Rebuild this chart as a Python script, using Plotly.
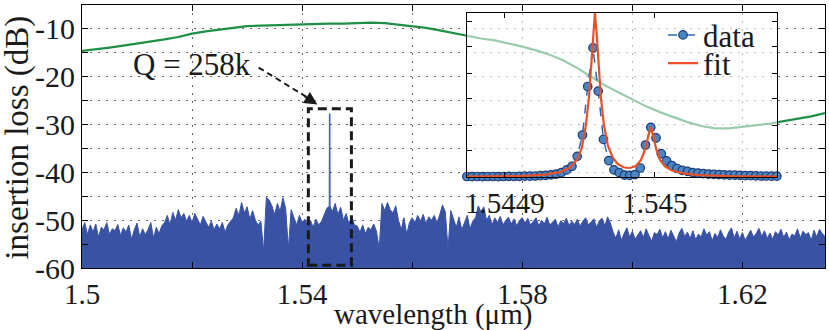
import plotly.graph_objects as go

# ---------------- data ----------------
# Main spectrum: noise floor (blue), sampled every 0.5 nm from 1.5 um
NOISE_START_UM = 1.5
NOISE_STEP_UM = 0.0005
noise_db = [
    -52.0, -50.5, -53.0, -51.0, -52.5, -50.8, -53.5, -51.5, -52.0, -50.5, -53.0, -51.8, -52.2, -50.9, -53.2, -51.6,
    -52.5, -51.0, -54.0, -52.0, -50.6, -53.5, -51.8, -53.0, -52.0, -50.5, -53.8, -51.5, -52.8, -51.2,
    -50.5, -49.0, -51.0, -48.4, -50.0, -47.8, -49.5, -48.6, -50.2,
    -49.0, -50.5, -48.6, -49.8, -51.0, -49.2, -50.4,
    -51.5, -50.2, -52.0, -50.8, -51.8, -50.5, -52.5, -51.0, -50.2,
    -49.5, -47.5, -49.0, -46.3, -48.5, -47.2, -49.8, -48.0, -50.0,
    -51.0, -50.2, -56.5, -45.2, -45.8,
    -47.0, -48.8, -46.5, -48.2, -45.3, -47.5, -56.0, -47.8,
    -49.5, -51.0, -49.0, -50.5, -49.8, -51.0,
    -50.0, -51.5, -49.8, -51.0, -50.3,
    -49.0, -47.5, -47.0, -48.2, -46.5, -48.8, -47.3,
    -50.0, -48.6, -50.8, -49.2, -51.0,
    -51.2, -52.5, -51.0, -52.8, -51.5, -52.0, -50.8, -52.3,
    -56.0, -46.5, -48.0, -46.3, -47.8, -48.5, -47.0,
    -50.0, -52.0, -49.5, -53.0, -50.5,
    -49.5, -50.5, -49.0, -50.2, -48.8, -50.8, -49.3, -50.0, -49.0, -50.5, -48.9,
    -46.8, -48.2, -56.0, -48.0,
    -50.0, -51.5, -49.3, -52.0, -50.5, -49.0, -51.8, -50.2, -49.5,
    -47.0, -48.3, -47.2,
    -50.0, -49.0, -51.0, -49.5, -50.5, -49.2, -51.0, -50.0, -49.4, -50.8, -49.7, -51.2, -50.0, -49.5, -50.6,
    -49.6, -51.0, -50.2, -49.5, -51.2, -50.0, -50.8, -49.4, -51.0, -50.3, -49.8, -51.4, -50.1, -50.7, -49.6, -51.1, -50.2, -50.9,
    -49.8, -51.3, -50.2, -49.5, -51.0, -50.4, -49.7, -51.5, -50.1, -49.6, -51.2, -49.3, -50.6,
    -52.5, -53.8, -52.0, -54.2, -52.8, -51.6, -53.5, -52.3, -54.0, -53.0,
    -52.2, -53.6, -51.8, -53.2, -54.4, -52.6, -53.0, -51.9, -53.7, -52.4,
    -53.9, -52.1, -53.3, -54.5, -52.7, -51.7, -53.4, -52.5, -53.8, -52.2,
    -54.1, -52.9, -53.5, -51.8, -53.1, -52.4, -54.3, -52.8, -53.6, -52.0,
    -53.3, -54.0, -52.5, -51.6, -53.7, -52.3, -53.9, -52.6, -54.2, -53.0,
    -52.1, -53.5, -52.8, -51.7, -53.4, -52.2, -53.8, -52.7, -54.0, -52.4,
    -53.1, -51.9, -53.6, -52.5, -54.1, -52.9, -53.3, -51.8, -53.7, -52.3,
    -53.0, -52.6, -54.2, -52.1, -53.5, -51.9, -52.8, -53.4,
]
noise_um = [round(NOISE_START_UM + NOISE_STEP_UM * i, 4) for i in range(len(noise_db))]

# The resonance itself, seen at finer sampling in the full spectrum
resonance_um = [1.54497, 1.545, 1.54503]
resonance_db = [-47.5, -27.7, -47.5]

# Grating-coupler envelope (green), every 2.5 nm
GREEN_START_UM = 1.5
GREEN_STEP_UM = 0.0025
green_db = [
    -14.6, -14.3, -13.9, -13.5, -13.1, -12.6, -12.2, -11.7, -11.0, -10.5,
    -10.1, -9.7, -9.4, -9.3, -9.2, -9.1, -9.0, -9.0, -8.9, -8.9,
    -8.8, -8.7, -8.8, -9.1, -9.4, -9.8, -10.3, -10.9, -11.5, -12.0,
    -12.4, -13.0, -13.7, -14.5, -15.4, -16.6, -18.2, -20.0, -21.8, -23.3,
    -24.7, -26.2, -27.4, -28.4, -29.5, -30.3, -30.8, -30.8, -30.5, -30.1,
    -29.8, -29.3, -28.8, -28.3, -27.6,
]
green_um = [round(GREEN_START_UM + GREEN_STEP_UM * i, 4) for i in range(len(green_db))]

# Inset: wavelength offset from 1544.9 nm in pm, normalised transmission
data_pm = [
    -25.3, -21.8, -18.3, -14.8, -11.3, -7.8, -4.3, -0.8, 2.7, 6.2,
    9.7, 13.2, 16.7, 20.2, 23.7, 27.2, 30.7, 34.2, 37.7, 41.2,
    44.7, 48.2, 51.7, 55.2, 58.7, 62.2, 65.7, 69.2, 72.7, 76.2,
    79.7, 83.2, 86.7, 90.2, 93.7, 97.2, 100.7, 104.2, 107.7, 111.2,
    114.7, 118.2, 121.7, 125.2, 128.7, 132.2, 135.7, 139.2, 142.7, 146.2,
    149.7, 153.2, 156.7, 160.2, 163.7, 167.2, 170.7, 174.2, 177.7, 181.2,
]
data_val = [
    0.003, 0.002, 0.003, 0.002, 0.003, 0.003, 0.002, 0.003, 0.004, 0.003,
    0.004, 0.005, 0.005, 0.006, 0.008, 0.010, 0.013, 0.018, 0.027, 0.043,
    0.065, 0.126, 0.256, 0.552, 0.787, 0.524, 0.229, 0.100, 0.043, 0.027,
    0.012, 0.010, 0.015, 0.055, 0.195, 0.303, 0.238, 0.142, 0.098, 0.070,
    0.052, 0.040, 0.034, 0.027, 0.024, 0.021, 0.018, 0.016, 0.015, 0.013,
    0.012, 0.011, 0.010, 0.009, 0.008, 0.007, 0.006, 0.006, 0.005, 0.005,
]
fit_pm = [
    -25.3, 10.0, 26.7, 36.7, 43.3, 48.0, 51.3, 54.0, 56.0, 57.7,
    59.0, 60.0, 61.0, 62.3, 64.0, 66.0, 68.7, 72.0, 75.3, 79.3,
    83.3, 87.3, 90.7, 93.3, 95.3, 97.1, 99.0, 101.0, 103.3, 106.7,
    111.3, 120.0, 130.0, 150.0, 181.3,
]
fit_val = [
    0.003, 0.006, 0.014, 0.030, 0.058, 0.104, 0.177, 0.317, 0.482, 0.683,
    0.896, 1.000, 0.896, 0.683, 0.482, 0.317, 0.189, 0.116, 0.079, 0.058,
    0.055, 0.067, 0.104, 0.165, 0.238, 0.305, 0.244, 0.165, 0.104, 0.064,
    0.040, 0.021, 0.012, 0.006, 0.003,
]

main_tickvals_x = [1.50, 1.52, 1.54, 1.56, 1.58, 1.60, 1.62]
main_ticktext_x = ["1.5", "", "1.54", "", "1.58", "", "1.62"]
main_tickvals_y = [-60, -55, -50, -45, -40, -35, -30, -25, -20, -15, -10, -5]
main_ticktext_y = ["-60", "", "-50", "", "-40", "", "-30", "", "-20", "", "-10", ""]
inset_tickvals_x = [0, 100]
inset_ticktext_x = ["1.5449", "1.545"]
inset_tickvals_y = [0.159, 0.317, 0.476, 0.634, 0.793, 0.951]

# ---------------- style ----------------
FONT = "Liberation Serif"
TXT = "#1a1a1a"
BLUE = "#3a52a3"
GREEN = "#1f8f45"
RED = "#e8502a"
MARK = "#4a86c4"
MARK_EDGE = "#1d3b73"

fig = go.Figure()

# floor for filling the noise trace
fig.add_trace(go.Scatter(x=[noise_um[0], noise_um[-1]], y=[-60, -60], mode="lines",
                         line=dict(width=0), showlegend=False, hoverinfo="skip"))
fig.add_trace(go.Scatter(x=noise_um, y=noise_db, mode="lines", fill="tonexty",
                         fillcolor=BLUE, line=dict(color=BLUE, width=1), showlegend=False))
fig.add_trace(go.Scatter(x=resonance_um, y=resonance_db, mode="lines",
                         line=dict(color="#4a62b4", width=1.6), showlegend=False))
fig.add_trace(go.Scatter(x=green_um, y=green_db, mode="lines",
                         line=dict(color=GREEN, width=2.2), showlegend=False))

fig.add_trace(go.Scatter(x=data_pm, y=data_val, mode="lines+markers", name="data",
                         xaxis="x2", yaxis="y2", cliponaxis=False, legend="legend",
                         line=dict(color="#2f67b0", width=1.5, dash="dash"),
                         marker=dict(size=8.5, color=MARK, line=dict(color=MARK_EDGE, width=1.2))))
fig.add_trace(go.Scatter(x=fit_pm, y=fit_val, mode="lines", name="fit",
                         xaxis="x2", yaxis="y2", cliponaxis=False, legend="legend2",
                         line=dict(color=RED, width=2.2)))

grid = dict(showgrid=True, gridcolor="rgba(0,0,0,0.6)", gridwidth=1.2, griddash="1.5px,6.5px")
axis_common = dict(showline=True, linecolor="black", linewidth=1, mirror="ticks",
                   ticks="inside", ticklen=6, tickcolor="black", zeroline=False,
                   tickfont=dict(family=FONT, size=29, color=TXT))
legend_common = dict(x=0.782, xanchor="left", yanchor="middle", bgcolor="rgba(0,0,0,0)",
                     font=dict(family=FONT, size=31, color=TXT))

fig.update_layout(
    width=829, height=330,
    margin=dict(l=82, r=4, t=5, b=62),
    paper_bgcolor="white",
    plot_bgcolor="rgba(255,255,255,0.55)",
    font=dict(family=FONT, color=TXT),
    xaxis=dict(domain=[0, 1], range=[1.5, 1.635], tickmode="array",
               tickvals=main_tickvals_x, ticktext=main_ticktext_x,
               **grid, **axis_common),
    yaxis=dict(domain=[0, 1], range=[-60, -5], tickmode="array",
               tickvals=main_tickvals_y, ticktext=main_ticktext_y,
               **grid, **{**axis_common, "tickfont": dict(family=FONT, size=30, color=TXT)}),
    xaxis2=dict(domain=[0.518, 0.9354], anchor="y2", range=[-25.3, 181.3], tickmode="array",
                tickvals=inset_tickvals_x, ticktext=inset_ticktext_x, showgrid=False,
                **{**axis_common, "linewidth": 1.3, "ticklen": 5}),
    yaxis2=dict(domain=[0.346, 0.9696], anchor="x2", range=[0, 1], tickmode="array",
                tickvals=inset_tickvals_y, showticklabels=False, showgrid=False,
                **{**axis_common, "linewidth": 1.3, "ticklen": 5}),
    legend=dict(y=0.885, **legend_common),
    legend2=dict(y=0.778, **legend_common),
    showlegend=True,
)

# annotation: dashed box around the resonance and Q label
fig.add_shape(type="rect", xref="x", yref="y", x0=1.54113, x1=1.54895, y0=-59.4, y1=-26.7,
              line=dict(color=TXT, width=3, dash="9px,5px"), layer="above")
fig.add_shape(type="line", xref="x", yref="y", x0=1.53209, y0=-18.08, x1=1.5423, y1=-25.3,
              line=dict(color=TXT, width=2, dash="6px,4px"), layer="above")
fig.add_annotation(x=1.54276, y=-25.8, xref="x", yref="y", ax=-14, ay=-9, text="",
                   showarrow=True, arrowhead=2, arrowsize=1.3, arrowwidth=2,
                   arrowcolor=TXT, standoff=0)
fig.add_annotation(x=1.51991, y=-17.46, xref="x", yref="y", text="Q = 258k", showarrow=False,
                   font=dict(family=FONT, size=31, color=TXT))

# axis titles
fig.add_annotation(x=0.4724, y=-0.176, xref="paper", yref="paper", text="wavelength (μm)",
                   showarrow=False, yanchor="middle",
                   font=dict(family=FONT, size=29, color=TXT))
fig.add_annotation(x=-0.0861, y=0.496, xref="paper", yref="paper", text="insertion loss (dB)",
                   showarrow=False, textangle=-90, xanchor="center", yanchor="middle",
                   font=dict(family=FONT, size=33, color=TXT))

# the page body has a default 8px margin; remove it so the figure sits at the window origin
fig.write_html("out.html", config={"displayModeBar": False},
               post_script="document.body.style.margin='0';")
